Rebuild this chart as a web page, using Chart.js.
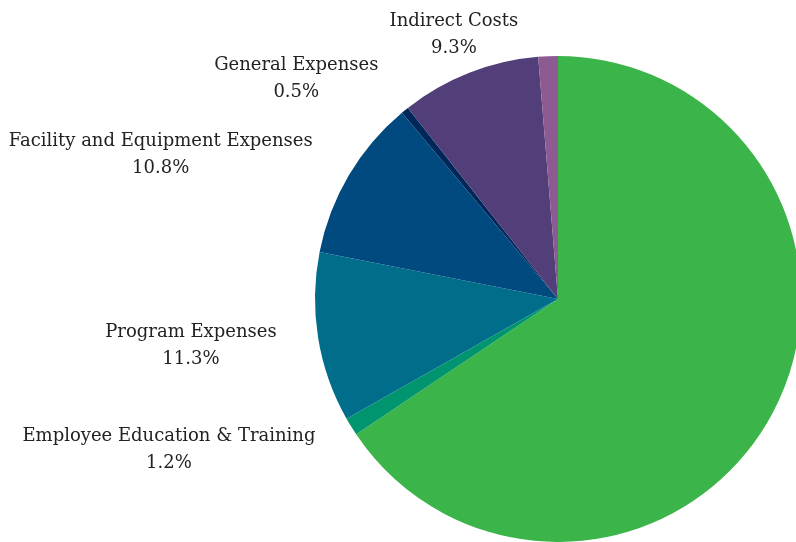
<!DOCTYPE html>
<html>
<head>
<meta charset="utf-8">
<script src="https://cdn.jsdelivr.net/npm/chart.js@4"></script>
<style>
  html, body { margin: 0; padding: 0; background: #fff; overflow: hidden; }
  #wrap { width: 820px; height: 542px; }
</style>
</head>
<body>
<div id="wrap"><canvas id="budgetPie"></canvas></div>
<script>
const categories = [
    'Salaries & Benefits',
    'Employee Education & Training',
    'Program Expenses',
    'Facility and Equipment Expenses',
    'General Expenses',
    'Indirect Costs',
    'Other'
];
const shares = [65.6, 1.2, 11.3, 10.8, 0.5, 9.3, 1.3];
const showLabel = [false, true, true, true, true, true, false];
const colors = ['#3bb54a', '#00956e', '#006e8a', '#004a7f', '#00275a', '#523e78', '#8d5a91'];

const outsideLabels = {
    id: 'outsideLabels',
    afterDatasetsDraw(chart) {
        const ctx = chart.ctx;
        const arcs = chart.getDatasetMeta(0).data;
        ctx.save();
        ctx.font = '18px "DejaVu Serif"';
        ctx.fillStyle = '#222';
        ctx.textBaseline = 'middle';
        ctx.textAlign = 'center';
        arcs.forEach((arc, i) => {
            if (!showLabel[i]) return;
            const mid = (arc.startAngle + arc.endAngle) / 2;
            const r = arc.outerRadius + 42;
            const x = arc.x + Math.cos(mid) * r;
            const y = arc.y + Math.sin(mid) * r + 1;
            const lines = [categories[i], shares[i].toFixed(1) + '%'];
            const w = Math.max(...lines.map(t => ctx.measureText(t).width));
            let cx = x;
            const c = Math.cos(mid);
            if (c < -0.5) cx = x - w / 2;
            else if (c > 0.5) cx = x + w / 2;
            lines.forEach((t, k) => {
                ctx.fillText(t, cx, y + (k - 0.5) * 27);
            });
        });
        ctx.restore();
    }
};

new Chart(document.getElementById('budgetPie'), {
    type: 'pie',
    data: {
        labels: categories,
        datasets: [{
            data: shares,
            backgroundColor: colors,
            borderWidth: 0
        }]
    },
    options: {
        responsive: true,
        maintainAspectRatio: false,
        animation: false,
        layout: { padding: { top: 56, bottom: 0, left: 315, right: 19 } },
        plugins: {
            legend: { display: false },
            tooltip: { enabled: false }
        }
    },
    plugins: [outsideLabels]
});
</script>
</body>
</html>
